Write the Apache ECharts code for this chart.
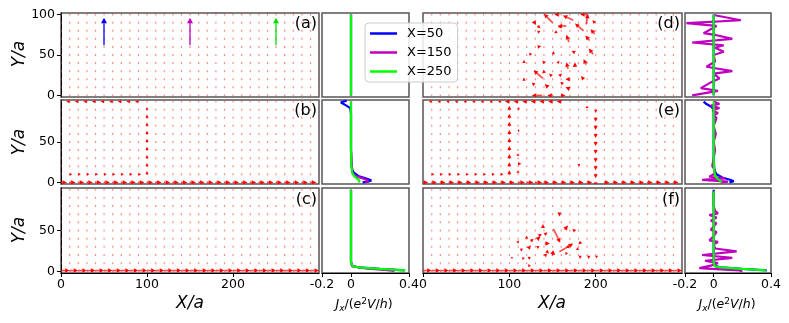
<!DOCTYPE html>
<html lang="en">
<head>
<meta charset="UTF-8" />
<title>current maps</title>
<script src="https://cdn.jsdelivr.net/npm/echarts@6/dist/echarts.min.js"></script>
<style>
    * { margin: 0; padding: 0; }
    #main { width: 789px; height: 323px; background: #fff; }
</style>
</head>
<body>
<div id="main"></div>
<script>
    // lattice of sample points, in units of a
    const xGrid = [0,10,20,30,40,50,60,70,80,90,100,110,120,130,140,150,160,170,180,190,200,210,220,230,240,250,260,270,280,290,300];
    const yGrid = [0,10,20,30,40,50,60,70,80,90,100];

    // tick labels
    const xTicksQuiver = [0, 100, 200];
    const xTicksJ = [-0.2, 0, 0.4];
    const yTicksTop = [0, 50, 100];
    const yTicksRest = [0, 50];

    // arrows [x, y, u, v, colour] (colour: 0 red, 1 blue, 2 magenta, 3 green)
    const arrowsA = [[50,62,0,34,1],[150,62,0,34,2],[250,62,0,34,3]];

    const arrowsB = [
        [0,0,7,0],[10,0,7,0],[20,0,7,0],[30,0,7,0],[40,0,7,0],[50,0,7,0],[60,0,7,0],[70,0,7,0],[80,0,7,0],[90,0,7,0],
        [100,0,7,0],[110,0,7,0],[120,0,7,0],[130,0,7,0],[140,0,7,0],[150,0,7,0],[160,0,7,0],[170,0,7,0],[180,0,7,0],[190,0,7,0],
        [200,0,7,0],[210,0,7,0],[220,0,7,0],[230,0,7,0],[240,0,7,0],[250,0,7,0],[260,0,7,0],[270,0,7,0],[280,0,7,0],[290,0,7,0],
        [10,10,3,0],[20,10,3,0],[30,10,3,0],[40,10,3,0],[50,10,3,0],[60,10,3,0],[70,10,3,0],[80,10,3,0],[90,10,3,0],
        [100,10,0,4],[100,20,0,4],[100,30,0,4],[100,40,0,4],[100,50,0,4],[100,60,0,4],[100,70,0,4],[100,80,0,4],[100,90,0,3],
        [0,100,-4,0],[10,100,-4,0],[20,100,-4,0],[30,100,-4,0],[40,100,-4,0],[50,100,-4,0],[60,100,-4,0],[70,100,-4,0],[80,100,-4,0],[90,100,-4,0]
    ];

    const arrowsC = [
        [0,1,10,0],[10,1,10,0],[20,1,10,0],[30,1,10,0],[40,1,10,0],[50,1,10,0],[60,1,10,0],[70,1,10,0],[80,1,10,0],[90,1,10,0],
        [100,1,10,0],[110,1,10,0],[120,1,10,0],[130,1,10,0],[140,1,10,0],[150,1,10,0],[160,1,10,0],[170,1,10,0],[180,1,10,0],[190,1,10,0],
        [200,1,10,0],[210,1,10,0],[220,1,10,0],[230,1,10,0],[240,1,10,0],[250,1,10,0],[260,1,10,0],[270,1,10,0],[280,1,10,0],[290,1,10,0]
    ];

    const arrowsD = [
        [150,90,-10,11],[158,100,-6,0],[174,93,-12,6],[190,100,-8,0],[189,88,2,13],[128,92,3,-5],[199,90,-3,3],
        [160,85,-4,0],[133,86,3,-3],[166,86,-10,0],[186,80,-10,9],[199,76,-5,6],[135,78,-3,2],[155,79,-3,-2],
        [169,66,-3,9],[193,68,-5,6],[133,60,4,1],[151,51,0,4],[176,53,-4,2],[197,51,-5,7],[125,50,-2,3],
        [117,40,0,4],[141,40,-3,3],[156,40,2,3],[168,33,-2,8],[176,35,0,6],[189,38,-3,7],
        [139,21,-11,10],[141,30,-3,-3],[149,24,-3,3],[158,24,3,3],[170,20,-5,0],[117,18,0,4],
        [129,13,-3,3],[145,10,-4,4],[162,14,-3,3],[170,8,-5,2],[186,20,-3,4],
        [138,0,-12,0],[150,0,-6,0],[160,0,5,0]
    ];

    const arrowsE = [
        [0,0,6,0],[10,0,6,0],[20,0,6,0],[30,0,6,0],[40,0,6,0],[50,0,6,0],[60,0,6,0],[70,0,6,0],[80,0,6,0],[90,0,6,0],
        [100,0,6,0],[110,0,8,0],[120,0,8,0],[130,0,8,0],[140,0,6,0],[150,0,6,0],[160,0,6,0],[170,0,6,0],[180,0,6,0],[190,0,6,0],
        [210,0,6,0],[220,0,6,0],[230,0,6,0],[240,0,6,0],[250,0,6,0],[260,0,6,0],[270,0,6,0],[280,0,6,0],[290,0,6,0],
        [10,10,3,0],[20,10,3,0],[30,10,3,0],[40,10,3,0],[50,10,3,0],[60,10,3,0],[70,10,3,0],[80,10,3,0],[90,10,3,0],
        [100,10,0,5],[100,20,0,5],[100,30,0,5],[100,40,0,5],[100,50,0,5],[100,60,0,5],[100,70,0,5],[100,80,0,5],[100,90,0,5],
        [200,0,0,-5],[200,10,0,-5],[200,20,0,-5],[200,30,0,-5],[200,40,0,-5],[200,50,0,-5],[200,60,0,-5],[200,70,0,-5],[200,80,0,-5],[200,90,0,-4],
        [10,100,-3,0],[20,100,-3,0],[30,100,-3,0],[40,100,-3,0],[50,100,-3,0],[60,100,-3,0],[70,100,-3,0],[80,100,-3,0],[90,100,-3,0],
        [100,100,-5,0],[110,100,-5,0],[120,100,-5,0],[130,100,-5,0],[140,100,-5,0],[150,100,-5,0],[160,100,-5,0],
        [110,92,2,-2],[110,64,2,0],[110,33,0,3],[110,23,4,0],[110,12,0,3],[190,92,0,3],[180,21,2,2]
    ];

    const arrowsF = [
        [0,1,10,0],[10,1,10,0],[20,1,10,0],[30,1,10,0],[40,1,10,0],[50,1,10,0],[60,1,10,0],[70,1,10,0],[80,1,10,0],[90,1,10,0],
        [100,1,10,0],[110,1,10,0],[120,1,10,0],[130,1,10,0],[140,1,10,0],[150,1,10,0],[160,1,10,0],[170,1,10,0],[180,1,10,0],[190,1,10,0],
        [200,1,10,0],[210,1,10,0],[220,1,10,0],[230,1,10,0],[240,1,10,0],[250,1,10,0],[260,1,10,0],[270,1,10,0],[280,1,10,0],[290,1,10,0],
        [158,72,0,-5],[139,53,0,5],[151,52,8,-17],[164,51,4,5],[176,49,-3,3],[134,44,4,1],[121,42,-3,-2],
        [141,45,3,3],[111,36,-3,0],[125,37,3,3],[132,39,4,4],[141,34,6,0],[158,24,16,10],[167,31,3,-3],
        [183,36,-3,-3],[113,26,3,2],[122,28,3,4],[134,29,-3,2],[143,25,3,-3],[149,24,4,-4],[165,22,3,0],
        [180,28,-3,-2],[103,16,0,2],[115,16,3,0],[124,16,-3,2],[141,19,3,3],[151,22,-2,-3],[182,19,0,-4],
        [192,19,0,-4],[201,19,0,-3],[122,7,3,0]
    ];

    // current profiles [Jx, Y] for X=50, X=150, X=250
    const jA50 = [[0,0],[0,100]];
    const jA150 = [[0,0],[0,100]];
    const jA250 = [[0,0],[0,100]];

    const jB50 = [[-0.03,101],[-0.07,99],[-0.04,96],[-0.005,92],[0,85],[0,40],[0.003,25],[0.008,16],[0.02,12],[0.05,8],[0.1,5],[0.14,2.5],[0.12,1],[0.08,0]];
    const jB150 = [[0,100],[0,40],[0.005,20],[0.01,12],[0.03,8],[0.08,5],[0.12,2],[0.1,0]];
    const jB250 = [[0,100],[0,40],[0.003,20],[0.008,12],[0.02,8],[0.04,5],[0.06,2],[0.05,0]];

    const jC50 = [[0,100],[0,12],[0.003,9],[0.012,6.5],[0.05,5],[0.2,3],[0.37,1.2]];
    const jC150 = [[0,100],[0,12],[0.003,9],[0.01,6],[0.1,3.5],[0.25,1.5],[0.3,0.5]];
    const jC250 = [[0,100],[0,12],[0.003,9],[0.012,6.5],[0.05,5],[0.2,3],[0.375,1.2]];

    const jD50 = [[0,0],[0,100]];
    const jD150 = [[0,99.5],[0.19,93],[-0.19,89.5],[0.02,86],[-0.07,77],[0.02,74.5],[0.13,70],[-0.15,65.5],[0.07,62],[0.01,59],[0.07,54],[0,50],[0.01,42],[-0.05,35.5],[0.13,30],[0,27],[0.04,21],[-0.01,17],[-0.09,9],[0.03,5.5],[-0.15,0]];
    const jD250 = [[0,0],[0,100]];

    const jE50 = [[-0.07,100],[-0.05,97],[-0.02,94],[0,91],[0,30],[0.005,15],[0.02,10],[0.06,6],[0.12,3],[0.14,1.5],[0.11,0]];
    const jE150 = [[0,100],[0.04,97],[-0.02,95],[0.04,92],[-0.01,89],[0.03,86],[0,83],[0.02,80],[0,70],[0.015,60],[0,50],[0.01,40],[0,30],[-0.01,20],[0.01,15],[0,10],[-0.03,7],[0.08,5],[-0.08,3],[0.1,1],[0.05,0]];
    const jE250 = [[0,100],[0,30],[0.003,15],[0.01,8],[0.03,4],[0.05,1.5],[0.045,0]];

    const jF50 = [[0,100],[0,12],[0.003,9],[0.012,6.5],[0.05,5],[0.2,3],[0.37,1.2]];
    const jF150 = [[0,98],[0,80],[0.01,74],[0.03,71],[-0.03,69],[0.02,66],[-0.02,62],[0.02,59],[0,55],[-0.02,51],[0.02,48],[0,43],[-0.03,38],[0.03,36],[0,33],[0.01,28],[0.16,24.5],[-0.08,20],[0.13,16.5],[-0.06,13],[0.03,10],[-0.02,7],[-0.1,4],[0.05,2.5],[0.18,1.2],[0.2,0]];
    const jF250 = [[0,98],[0,12],[0.003,8.5],[0.01,6],[0.05,5],[0.2,3],[0.365,1.2]];

    const FONT = '"DejaVu Sans", sans-serif';
    const lineNames = ['X=50', 'X=150', 'X=250'];
    const lineColors = ['#0000ff', '#bf00bf', '#00ff00'];
    const arrowPalette = ['#ff0000', '#0000ff', '#bf00bf', '#00e000'];

    // layout: rows (top, height), columns (left, width)
    const ROWS = [[13, 84], [100, 84], [188, 85]];
    const COLS = [[61, 258], [322, 87], [423, 259], [685, 86]];

    var chart = echarts.init(document.getElementById('main'));

    var grids = [], xAxes = [], yAxes = [];
    ROWS.forEach((r, ri) => {
        COLS.forEach((c, ci) => {
            const gi = ri * 4 + ci;
            const bottom = ri === 2;
            const quiver = ci === 0 || ci === 2;
            grids.push({
                left: c[0], top: r[0], width: c[1], height: r[1],
                show: true, borderColor: '#555', borderWidth: 1.5,
                containLabel: false, outerBoundsMode: 'none'
            });
            const ticks = quiver ? xTicksQuiver : xTicksJ;
            xAxes.push({
                type: 'value', gridIndex: gi,
                min: quiver ? 0 : -0.2, max: quiver ? 300 : 0.4,
                splitLine: { show: false },
                axisLine: { show: bottom, onZero: false, lineStyle: { color: '#000' } },
                axisTick: { show: bottom, customValues: ticks, length: 4, lineStyle: { color: '#000' } },
                axisLabel: { show: bottom, customValues: ticks, margin: 5, color: '#000', fontSize: 12.5, fontFamily: FONT }
            });
            const yt = ri === 0 ? yTicksTop : yTicksRest;
            yAxes.push({
                type: 'value', gridIndex: gi, min: -2, max: 102,
                splitLine: { show: false },
                axisLine: { show: ci === 0, onZero: false, lineStyle: { color: '#000' } },
                axisTick: { show: ci === 0, customValues: yt, length: 4, lineStyle: { color: '#000' } },
                axisLabel: { show: ci === 0, customValues: yt, margin: 6, color: '#000', fontSize: 12.5, fontFamily: FONT }
            });
        });
    });

    // background lattice
    var lattice = [];
    xGrid.forEach(x => yGrid.forEach(y => lattice.push([x, y])));

    function renderDot(params, api) {
        const p = api.coord([api.value(0), api.value(1)]);
        return {
            type: 'rect',
            shape: { x: p[0] - 0.5, y: p[1] - 1, width: 1.2, height: 2 },
            style: { fill: 'rgba(255,60,60,0.6)' }
        };
    }

    function renderArrow(params, api) {
        const x = api.value(0), y = api.value(1), u = api.value(2), v = api.value(3);
        const ci = api.value(4) || 0;
        const color = arrowPalette[ci];
        const big = ci > 0;
        const p0 = api.coord([x, y]);
        const p1 = api.coord([x + u, y + v]);
        const dx = p1[0] - p0[0], dy = p1[1] - p0[1];
        const L = Math.hypot(dx, dy);
        if (L < 0.5) return;
        const ux = dx / L, uy = dy / L;
        const px = -uy, py = ux;
        const hl = Math.min(L, big ? 5.5 : 4.5);
        const hw = big ? 3 : Math.max(1.6, hl * 0.5);
        const bx = p1[0] - ux * hl, by = p1[1] - uy * hl;
        const children = [];
        if (L > hl + 0.3) {
            children.push({
                type: 'line',
                shape: { x1: p0[0], y1: p0[1], x2: bx, y2: by },
                style: { stroke: big ? color : 'rgba(255,0,0,0.7)', lineWidth: big ? 1.3 : 1.7 }
            });
        }
        children.push({
            type: 'polygon',
            shape: { points: [p1, [bx + px * hw, by + py * hw], [bx - px * hw, by - py * hw]] },
            style: { fill: color }
        });
        return { type: 'group', children: children };
    }

    var series = [];
    var quiverPanels = [[0, arrowsA], [4, arrowsB], [8, arrowsC], [2, arrowsD], [6, arrowsE], [10, arrowsF]];
    quiverPanels.forEach(([gi, arrows]) => {
        series.push({
            type: 'custom', xAxisIndex: gi, yAxisIndex: gi, clip: true, silent: true, z: 1,
            renderItem: renderDot, data: lattice
        });
        series.push({
            type: 'custom', xAxisIndex: gi, yAxisIndex: gi, clip: true, silent: true, z: 2,
            dimensions: ['x', 'y', 'u', 'v', 'c'], encode: { x: 0, y: 1 },
            renderItem: renderArrow,
            data: arrows.map(a => [a[0], a[1], a[2], a[3], a[4] || 0])
        });
    });

    var linePanels = [
        [1, [jA50, jA150, jA250]], [5, [jB50, jB150, jB250]], [9, [jC50, jC150, jC250]],
        [3, [jD50, jD150, jD250]], [7, [jE50, jE150, jE250]], [11, [jF50, jF150, jF250]]
    ];
    linePanels.forEach(([gi, lines]) => {
        lines.forEach((d, k) => {
            series.push({
                type: 'line', name: lineNames[k], xAxisIndex: gi, yAxisIndex: gi,
                data: d, showSymbol: false, symbol: 'none', silent: true, z: 3 + k,
                color: lineColors[k],
                lineStyle: { color: lineColors[k], width: 2.2 }
            });
        });
    });

    // texts
    var graphics = [];
    [54, 142, 230].forEach(cy => {
        graphics.push({ type: 'text', x: 20, y: cy, rotation: Math.PI / 2,
            style: { text: 'Y/a', font: 'italic 17px ' + FONT, fill: '#000', align: 'center', verticalAlign: 'middle' } });
    });
    [190, 552].forEach(cx => {
        graphics.push({ type: 'text', x: cx, y: 304,
            style: { text: 'X/a', font: 'italic 17px ' + FONT, fill: '#000', align: 'center', verticalAlign: 'middle' } });
    });
    [364, 727].forEach(cx => {
        graphics.push({ type: 'text', x: cx, y: 305,
            style: {
                text: '{i|J}{s|x}{n|/(}{i|e}{p|2}{i|V}{n|/}{i|h}{n|)}',
                align: 'center', verticalAlign: 'middle',
                rich: {
                    i: { fontSize: 12.5, fontStyle: 'italic', fontFamily: FONT, fill: '#000' },
                    n: { fontSize: 12.5, fontFamily: FONT, fill: '#000' },
                    s: { fontSize: 9, fontStyle: 'italic', fontFamily: FONT, fill: '#000', padding: [7, 0, 0, 0] },
                    p: { fontSize: 9, fontFamily: FONT, fill: '#000', padding: [0, 0, 7, 0] }
                }
            } });
    });
    var panelLabels = [['(a)', 317, 24], ['(b)', 317, 111], ['(c)', 317, 200], ['(d)', 680, 24], ['(e)', 680, 111], ['(f)', 680, 200]];
    panelLabels.forEach(([t, x, y]) => {
        graphics.push({ type: 'text', x: x, y: y, z: 100,
            style: { text: t, font: '16px ' + FONT, fill: '#000', align: 'right', verticalAlign: 'middle' } });
    });

    var option = {
        animation: false,
        backgroundColor: '#fff',
        grid: grids,
        xAxis: xAxes,
        yAxis: yAxes,
        legend: {
            data: lineNames, orient: 'vertical', left: 365, top: 23,
            icon: 'rect', itemWidth: 27, itemHeight: 2.5, itemGap: 6,
            padding: [4, 6, 4, 5],
            backgroundColor: 'rgba(255,255,255,0.85)', borderColor: '#ccc', borderWidth: 1, borderRadius: 4,
            textStyle: { fontSize: 13, fontFamily: FONT, color: '#000', padding: [0, 0, 0, 5] },
            selectedMode: false, z: 50
        },
        graphic: graphics,
        series: series
    };
    option && chart.setOption(option);
</script>
</body>
</html>
